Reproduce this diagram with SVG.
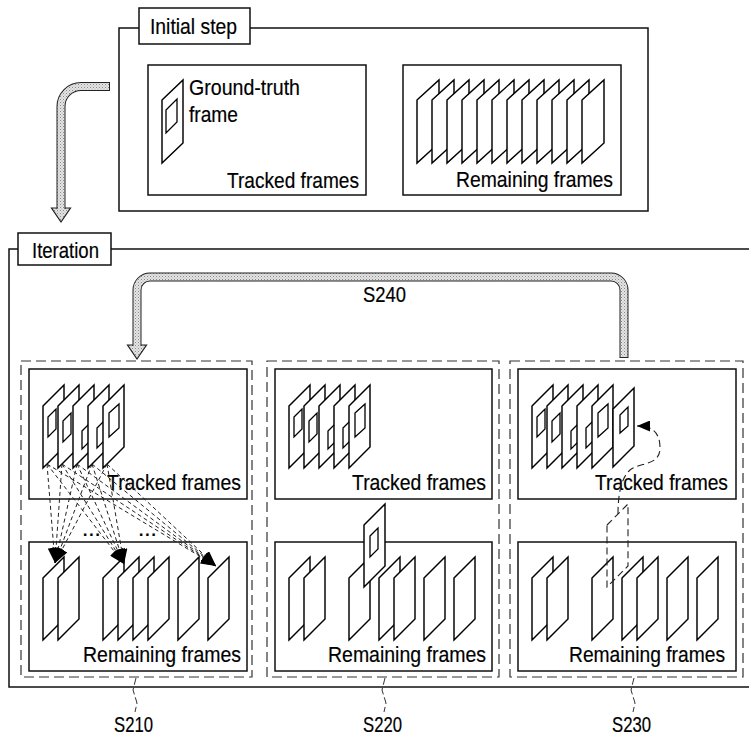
<svg xmlns="http://www.w3.org/2000/svg" xmlns:xlink="http://www.w3.org/1999/xlink" width="749" height="740" viewBox="0 0 749 740">
<style>
.bx{fill:#fff;stroke:#111;stroke-width:1.5}
.ob{fill:none;stroke:#111;stroke-width:1.5}
.db{fill:none;stroke:#333;stroke-width:1.2;stroke-dasharray:10 5}
.fr{fill:#fff;stroke:#000;stroke-width:1.45;stroke-linejoin:miter}
.in{fill:#fff;stroke:#000;stroke-width:1.3}
.t{font-family:"Liberation Sans Narrow","Liberation Sans",Arial,sans-serif;font-size:22.5px;fill:#000;stroke:#000;stroke-width:0.2}
.tb{fill:none;stroke:#222;stroke-width:9}
.tp{fill:none;stroke:url(#dots);stroke-width:7}
.ah{fill:url(#dots);stroke:#222;stroke-width:1.2;stroke-linejoin:miter}
.dl{fill:none;stroke:#222;stroke-width:1;stroke-dasharray:4 3}
.ld{fill:none;stroke:#333;stroke-width:1;stroke-dasharray:7 3}
</style>
<defs>
<pattern id="dots" width="3" height="3" patternUnits="userSpaceOnUse">
<rect width="3" height="3" fill="#e4e4e4"/>
<rect width="1" height="1" fill="#8a8a8a"/>
<rect x="1.5" y="1.5" width="1" height="1" fill="#a8a8a8"/>
</pattern>
<marker id="ar" viewBox="0 0 15 12" refX="15" refY="6" markerWidth="15" markerHeight="12" markerUnits="userSpaceOnUse" orient="auto">
<path d="M0,0 L15,6 L0,12 z" fill="#000"/>
</marker>
<marker id="ar2" viewBox="0 0 13 11" refX="13" refY="5.5" markerWidth="13" markerHeight="11" markerUnits="userSpaceOnUse" orient="auto">
<path d="M0,0 L13,5.5 L0,11 z" fill="#000"/>
</marker>
<polygon id="pf" class="fr" points="0,21 21,0 21,62 0,83"/>
<g id="trk">
<use xlink:href="#pf" x="0"/><polygon class="in" points="5,32 13,24 13,44 5,52"/>
<use xlink:href="#pf" x="15"/><polygon class="in" points="20,36 28,28 28,49 20,57"/>
<use xlink:href="#pf" x="30"/><polygon class="in" points="39,46 47,38 47,56 39,64"/>
<use xlink:href="#pf" x="45"/><polygon class="in" points="54,43 62,35 62,55 54,63"/>
<use xlink:href="#pf" x="60"/><polygon class="in" points="66,28 76,19 76,43 66,52"/>
</g>
</defs>

<g id="initial-step">
<rect class="ob" x="119" y="28" width="529" height="183"/>
<rect class="bx" x="139" y="8" width="111" height="36"/>
<text class="t" x="150" y="34" font-size="21.5" textLength="87" lengthAdjust="spacingAndGlyphs">Initial step</text>
</g>

<g id="initial-tracked">
<rect class="bx" x="148" y="65" width="218" height="130"/>
<polygon class="fr" points="162,100 183,80 183,143 162,163"/>
<polygon class="in" points="166,110 177,99 177,122 166,133"/>
<text class="t" x="189" y="95" textLength="111" lengthAdjust="spacingAndGlyphs">Ground-truth</text>
<text class="t" x="189" y="122" textLength="49" lengthAdjust="spacingAndGlyphs">frame</text>
<text class="t" x="227" y="188" textLength="132" lengthAdjust="spacingAndGlyphs">Tracked frames</text>
</g>

<g id="initial-remaining">
<rect class="bx" x="403" y="65" width="218" height="130"/>
<g transform="translate(417,80)">
<polygon class="fr" points="0,20 22,0 22,63 0,83"/>
<polygon class="fr" points="15,20 37,0 37,63 15,83"/>
<polygon class="fr" points="30,20 52,0 52,63 30,83"/>
<polygon class="fr" points="45,20 67,0 67,63 45,83"/>
<polygon class="fr" points="60,20 82,0 82,63 60,83"/>
<polygon class="fr" points="75,20 97,0 97,63 75,83"/>
<polygon class="fr" points="90,20 112,0 112,63 90,83"/>
<polygon class="fr" points="105,20 127,0 127,63 105,83"/>
<polygon class="fr" points="120,20 142,0 142,63 120,83"/>
<polygon class="fr" points="135,20 157,0 157,63 135,83"/>
<polygon class="fr" points="150,20 172,0 172,63 150,83"/>
<polygon class="fr" points="165,20 187,0 187,63 165,83"/>
</g>
<text class="t" x="456" y="187" textLength="157" lengthAdjust="spacingAndGlyphs">Remaining frames</text>
</g>

<g id="iteration">
<path class="ob" d="M749,249 H9 V687 H749" stroke-width="1.8"/>
<rect class="bx" x="18" y="233" width="93" height="32"/>
<text class="t" x="32" y="258" font-size="21.5" textLength="67" lengthAdjust="spacingAndGlyphs">Iteration</text>
</g>

<g id="s210">
<rect class="db" x="21" y="361" width="231" height="316"/>
<rect class="bx" x="29" y="369" width="218" height="130"/>
<use xlink:href="#trk" x="43" y="385"/>
<text class="t" x="107" y="490" textLength="134" lengthAdjust="spacingAndGlyphs">Tracked frames</text>
<rect class="bx" x="29" y="542" width="218" height="129"/>
<g transform="translate(0,557)">
<use xlink:href="#pf" x="43"/><use xlink:href="#pf" x="58"/>
<use xlink:href="#pf" x="103"/><use xlink:href="#pf" x="118"/><use xlink:href="#pf" x="133"/><use xlink:href="#pf" x="148"/>
<use xlink:href="#pf" x="178"/><use xlink:href="#pf" x="208"/>
</g>
<text class="t" x="83" y="662" textLength="158" lengthAdjust="spacingAndGlyphs">Remaining frames</text>
<text class="t" x="82" y="536" font-size="20">...</text>
<text class="t" x="138" y="536" font-size="20">...</text>
</g>

<g id="s220">
<rect class="db" x="267" y="361" width="232" height="316"/>
<rect class="bx" x="275" y="369" width="217" height="130"/>
<use xlink:href="#trk" x="289" y="385"/>
<text class="t" x="352" y="490" textLength="134" lengthAdjust="spacingAndGlyphs">Tracked frames</text>
<rect class="bx" x="275" y="542" width="217" height="129"/>
<g transform="translate(0,557)">
<use xlink:href="#pf" x="289"/><use xlink:href="#pf" x="304"/>
<use xlink:href="#pf" x="349"/><use xlink:href="#pf" x="379"/><use xlink:href="#pf" x="394"/>
<use xlink:href="#pf" x="424"/><use xlink:href="#pf" x="454"/>
</g>
<polygon class="fr" points="364,525 385,504 385,566 364,587"/>
<polygon class="in" points="370,536 378,528 378,549 370,557"/>
<text class="t" x="328" y="662" textLength="158" lengthAdjust="spacingAndGlyphs">Remaining frames</text>
</g>

<g id="s230">
<rect class="db" x="510" y="361" width="233" height="316"/>
<rect class="bx" x="518" y="369" width="218" height="130"/>
<use xlink:href="#trk" x="532" y="385"/>
<polygon class="fr" points="613,409 634,388 634,446 613,467"/>
<polygon class="in" points="620,415 628,407 628,426 620,433"/>
<text class="t" x="595" y="490" textLength="133" lengthAdjust="spacingAndGlyphs">Tracked frames</text>
<rect class="bx" x="518" y="542" width="218" height="129"/>
<g transform="translate(0,557)">
<use xlink:href="#pf" x="532"/><use xlink:href="#pf" x="547"/>
<use xlink:href="#pf" x="592"/>
</g>
<polygon points="607,525 628,504 628,566 607,587" fill="none" stroke="#222" stroke-width="1.1" stroke-dasharray="7 4"/>
<g transform="translate(0,557)">
<use xlink:href="#pf" x="622"/><use xlink:href="#pf" x="637"/>
<use xlink:href="#pf" x="667"/><use xlink:href="#pf" x="697"/>
</g>
<text class="t" x="569" y="662" textLength="156" lengthAdjust="spacingAndGlyphs">Remaining frames</text>
</g>

<g id="labels">
<text class="t" x="363" y="302" textLength="43" lengthAdjust="spacingAndGlyphs">S240</text>
<text class="t" x="114" y="732" textLength="39" lengthAdjust="spacingAndGlyphs">S210</text>
<text class="t" x="363" y="732" textLength="39" lengthAdjust="spacingAndGlyphs">S220</text>
<text class="t" x="612" y="732" textLength="39" lengthAdjust="spacingAndGlyphs">S230</text>
</g>

<g id="connectors">
<polygon class="ah" points="51.5,208 70.5,208 61,222"/>
<path class="tb" d="M110,86.5 H81 A20,20 0 0 0 61,106.5 V209"/>
<path class="tp" d="M109,86.5 H81 A20,20 0 0 0 61,106.5 V209"/>

<polygon class="ah" points="127.5,345 146.5,345 137,359"/>
<path class="tb" d="M137,346 V290 A13,13 0 0 1 150,277 H611 A13,13 0 0 1 624,290 V358"/>
<path class="tp" d="M137,346 V290 A13,13 0 0 1 150,277 H611 A13,13 0 0 1 624,290 V357"/>

<g marker-end="url(#ar)">
<path class="dl" d="M47,464 L55,563"/>
<path class="dl" d="M62,464 L55,563"/>
<path class="dl" d="M77,464 L55,563"/>
<path class="dl" d="M92,464 L55,563"/>
<path class="dl" d="M107,464 L55,563"/>
<path class="dl" d="M47,464 L124,564"/>
<path class="dl" d="M62,464 L124,564"/>
<path class="dl" d="M77,464 L124,564"/>
<path class="dl" d="M92,464 L124,564"/>
<path class="dl" d="M107,464 L124,564"/>
<path class="dl" d="M47,464 L216,566"/>
<path class="dl" d="M62,464 L216,566"/>
<path class="dl" d="M77,464 L216,566"/>
<path class="dl" d="M92,464 L216,566"/>
<path class="dl" d="M107,464 L216,566"/>
</g>

<path d="M618,514 C618,495 621,478 630,470 C640,462 660,466 660,448 C660,432 652,426 637,426" fill="none" stroke="#222" stroke-width="1.1" stroke-dasharray="7 4" marker-end="url(#ar2)"/>

<path class="ld" d="M136,678 L133,690 L137,703 L135,712"/>
<path class="ld" d="M385,678 L382,690 L386,703 L384,712"/>
<path class="ld" d="M634,678 L631,690 L635,703 L633,712"/>
</g>
</svg>
